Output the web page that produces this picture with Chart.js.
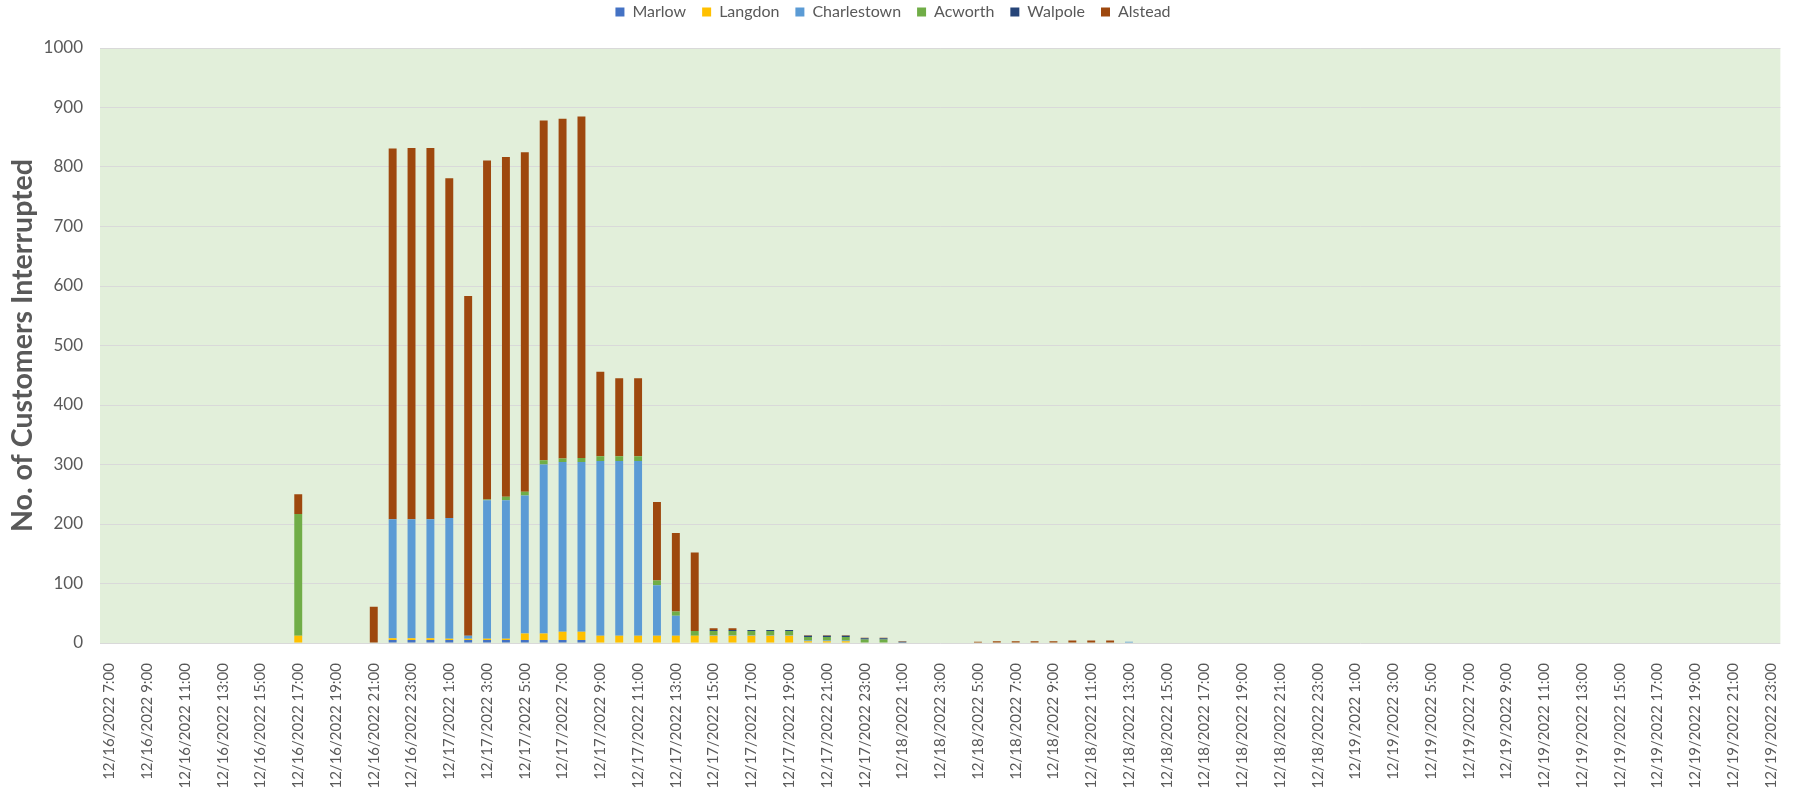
<!DOCTYPE html>
<html>
<head>
<meta charset="utf-8">
<title>Customers Interrupted</title>
<script src="https://cdn.jsdelivr.net/npm/chart.js@4.4.0/dist/chart.umd.min.js"></script>
<style>
  html, body { margin: 0; padding: 0; background: #fff; }
  #wrap { position: relative; width: 1801px; height: 788px; }
</style>
</head>
<body>
<div id="wrap"><canvas id="outageChart"></canvas></div>
<script>
/* Customers interrupted by town, hourly, 12/16 - 12/19/2022 */

// --- CATEGORIES (hourly) ---
const hours = [
  "12/16/2022 7:00","12/16/2022 8:00","12/16/2022 9:00","12/16/2022 10:00","12/16/2022 11:00","12/16/2022 12:00",
  "12/16/2022 13:00","12/16/2022 14:00","12/16/2022 15:00","12/16/2022 16:00","12/16/2022 17:00","12/16/2022 18:00",
  "12/16/2022 19:00","12/16/2022 20:00","12/16/2022 21:00","12/16/2022 22:00","12/16/2022 23:00",
  "12/17/2022 0:00","12/17/2022 1:00","12/17/2022 2:00","12/17/2022 3:00","12/17/2022 4:00","12/17/2022 5:00",
  "12/17/2022 6:00","12/17/2022 7:00","12/17/2022 8:00","12/17/2022 9:00","12/17/2022 10:00","12/17/2022 11:00",
  "12/17/2022 12:00","12/17/2022 13:00","12/17/2022 14:00","12/17/2022 15:00","12/17/2022 16:00","12/17/2022 17:00",
  "12/17/2022 18:00","12/17/2022 19:00","12/17/2022 20:00","12/17/2022 21:00","12/17/2022 22:00","12/17/2022 23:00",
  "12/18/2022 0:00","12/18/2022 1:00","12/18/2022 2:00","12/18/2022 3:00","12/18/2022 4:00","12/18/2022 5:00",
  "12/18/2022 6:00","12/18/2022 7:00","12/18/2022 8:00","12/18/2022 9:00","12/18/2022 10:00","12/18/2022 11:00",
  "12/18/2022 12:00","12/18/2022 13:00","12/18/2022 14:00","12/18/2022 15:00","12/18/2022 16:00","12/18/2022 17:00",
  "12/18/2022 18:00","12/18/2022 19:00","12/18/2022 20:00","12/18/2022 21:00","12/18/2022 22:00","12/18/2022 23:00",
  "12/19/2022 0:00","12/19/2022 1:00","12/19/2022 2:00","12/19/2022 3:00","12/19/2022 4:00","12/19/2022 5:00",
  "12/19/2022 6:00","12/19/2022 7:00","12/19/2022 8:00","12/19/2022 9:00","12/19/2022 10:00","12/19/2022 11:00",
  "12/19/2022 12:00","12/19/2022 13:00","12/19/2022 14:00","12/19/2022 15:00","12/19/2022 16:00","12/19/2022 17:00",
  "12/19/2022 18:00","12/19/2022 19:00","12/19/2022 20:00","12/19/2022 21:00","12/19/2022 22:00","12/19/2022 23:00"
];

// --- SERIES (one row per day: 12/16 from 7:00, then 12/17, 12/18, 12/19) ---
const marlow = [
  0,0,0,0,0,0,0,0,0,0,0,0,0,0,0,5,5,
  5,5,5,5,5,5,5,5,5,0,0,0,0,0,0,0,0,0,0,0,0,0,0,0,
  0,0,0,0,0,0,0,0,0,0,0,0,0,0,0,0,0,0,0,0,0,0,0,0,
  0,0,0,0,0,0,0,0,0,0,0,0,0,0,0,0,0,0,0,0,0,0,0,0
];
const langdon = [
  0,0,0,0,0,0,0,0,0,0,12,0,0,0,0,3,3,
  3,2,2,2,2,11,11,14,14,12,12,12,12,12,12,12,12,12,12,12,3,3,3,0,
  0,0,0,0,0,0,0,0,0,0,0,0,0,0,0,0,0,0,0,0,0,0,0,0,
  0,0,0,0,0,0,0,0,0,0,0,0,0,0,0,0,0,0,0,0,0,0,0,0
];
const charlestown = [
  0,0,0,0,0,0,0,0,0,0,0,0,0,0,0,200,200,
  200,203,5,233,233,232,284,285,285,294,294,294,85,34,0,1,1,1,1,1,1,1,1,0,
  0,0,0,0,0,0,0,0,0,0,1,1,1,2,0,0,0,0,0,0,0,0,0,0,
  0,0,0,0,0,0,0,0,0,0,0,0,0,0,0,0,0,0,0,0,0,0,0,0
];
const acworth = [
  0,0,0,0,0,0,0,0,0,0,205,0,0,0,0,0,0,
  0,0,0,1,6,6,7,6,7,8,8,8,8,7,8,7,7,7,7,7,6,6,6,6,
  6,0,0,0,0,0,0,0,0,0,0,0,0,0,0,0,0,0,0,0,0,0,0,0,
  0,0,0,0,0,0,0,0,0,0,0,0,0,0,0,0,0,0,0,0,0,0,0,0
];
const walpole = [
  0,0,0,0,0,0,0,0,0,0,0,0,0,0,0,0,0,
  0,0,0,0,0,0,0,0,0,0,0,0,0,0,0,2,2,2,2,2,2,2,2,2,
  2,2,0,0,0,0,0,0,0,0,0,0,0,0,0,0,0,0,0,0,0,0,0,0,
  0,0,0,0,0,0,0,0,0,0,0,0,0,0,0,0,0,0,0,0,0,0,0,0
];
const alstead = [
  0,0,0,0,0,0,0,0,0,0,33,0,0,0,61,623,624,
  624,571,571,570,571,571,571,571,574,142,131,131,132,132,132,3,3,0,0,0,1,1,1,1,
  1,1,1,1,1,2,3,3,3,3,3,3,3,0,1,0,0,0,0,0,0,0,0,0,
  0,0,0,0,0,0,0,0,0,0,0,0,0,0,0,0,0,0,0,0,0,0,0,0
];

const yTicks = [0, 100, 200, 300, 400, 500, 600, 700, 800, 900, 1000];

const FONT = "Lato, 'Liberation Sans', sans-serif";
const INK = '#595959';

// fond vert de la zone de tracé + légende remontée
const plotBg = {
    id: 'plotBg',
    beforeUpdate(chart) {
        const lg = chart.legend;
        if (lg && !lg._fixed) {
            const fit = lg.fit;
            lg.fit = function () { fit.call(this); this.height = 48; };
            lg._fixed = true;
        }
    },
    beforeDraw(chart) {
        const { ctx, chartArea: a } = chart;
        ctx.save();
        ctx.fillStyle = '#E2EFDA';
        ctx.fillRect(a.left, a.top, a.right - a.left, a.bottom - a.top);
        ctx.restore();
        if (chart.legend) chart.legend.top = -12;
    }
};

const series = [
    { label: 'Marlow', data: marlow, color: '#4472C4' },
    { label: 'Langdon', data: langdon, color: '#FFC000' },
    { label: 'Charlestown', data: charlestown, color: '#5B9BD5' },
    { label: 'Acworth', data: acworth, color: '#70AD47' },
    { label: 'Walpole', data: walpole, color: '#264478' },
    { label: 'Alstead', data: alstead, color: '#9E480E' }
];

new Chart(document.getElementById('outageChart'), {
    type: 'bar',
    data: {
        labels: hours,
        datasets: series.map(s => ({
            label: s.label,
            data: s.data,
            backgroundColor: s.color,
            borderWidth: 0,
            barPercentage: 0.42,
            categoryPercentage: 1
        }))
    },
    options: {
        responsive: true,
        maintainAspectRatio: false,
        animation: false,
        layout: { padding: { left: 0, right: 15, top: 0, bottom: 0 } },
        plugins: {
            legend: {
                position: 'top',
                labels: {
                    boxWidth: 9, boxHeight: 9, padding: 16,
                    color: INK, font: { family: FONT, size: 16 }
                }
            },
            tooltip: { enabled: false }
        },
        scales: {
            x: {
                stacked: true,
                grid: { display: false },
                border: { display: false },
                afterFit(scale) { scale.height = 145; },
                ticks: {
                    autoSkip: false, minRotation: 90, maxRotation: 90, padding: 12,
                    color: INK, font: { family: FONT, size: 15 },
                    callback(v, i) { return i % 2 === 0 ? hours[i] : ''; }
                }
            },
            y: {
                stacked: true,
                min: 0, max: 1000,
                afterFit(scale) { scale.width = 100; },
                afterBuildTicks(scale) { scale.ticks = yTicks.map(v => ({ value: v })); },
                grid: { color: '#D9D9D9', lineWidth: 1, drawTicks: false },
                border: { display: false },
                ticks: {
                    padding: 17, color: INK, font: { family: FONT, size: 17 },
                    callback(v) { return String(v); }
                },
                title: {
                    display: true,
                    text: 'No. of Customers Interrupted',
                    color: INK,
                    font: { family: FONT, size: 28.5, weight: 'bold' },
                    padding: { top: 6, bottom: 0 }
                }
            }
        }
    },
    plugins: [plotBg]
});
</script>
</body>
</html>
